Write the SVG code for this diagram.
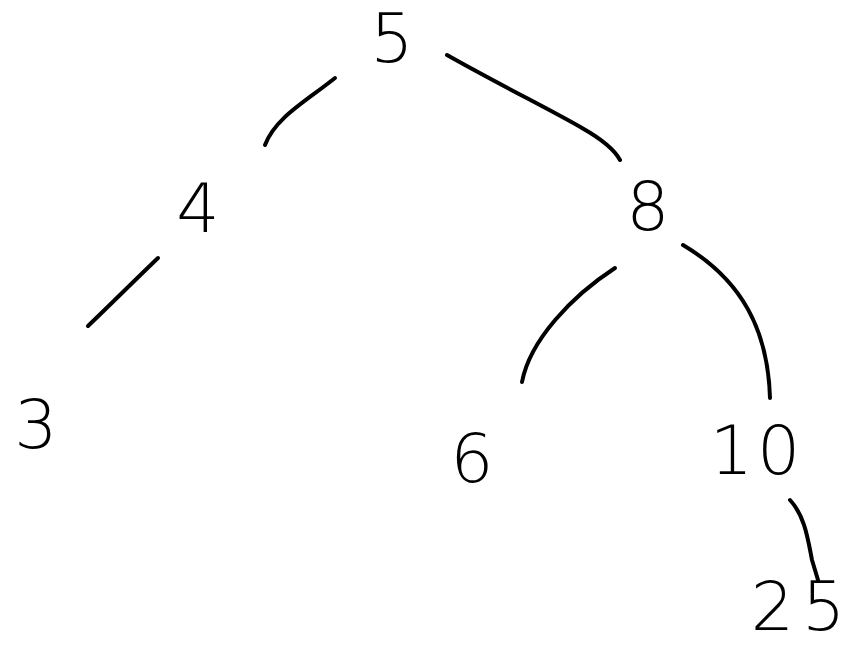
<svg xmlns="http://www.w3.org/2000/svg" width="856" height="647" viewBox="0 0 856 647">
<style>
.lbl{font-family:"DejaVu Sans","Liberation Sans",sans-serif;font-size:68px;fill:#000;text-anchor:middle;font-weight:300}
.edge{fill:none;stroke:#000;stroke-width:4;stroke-linecap:round;stroke-linejoin:round}
</style>
<rect width="856" height="647" fill="#fff"/>
<g id="connectors">
<path class="edge" d="M335,78 C305,102 275,118 265,145"/>
<path class="edge" d="M447,55 C500,85 555,112 582,128 Q612,145 620,160"/>
<path class="edge" d="M158,258 C135,280 110,305 88,326"/>
<path class="edge" d="M615,268 C572,296 530,340 522,382"/>
<path class="edge" d="M683,245 C742,280 768,330 770,398"/>
<path class="edge" d="M790,500 C805,516 808,540 812,560 L818,580"/>
</g>
<g id="n5"><text class="lbl" x="392" y="62" font-size="62">5</text></g>
<g id="n4"><text class="lbl" x="198" y="232">4</text></g>
<g id="n8"><text class="lbl" x="648" y="230">8</text></g>
<g id="n3"><text class="lbl" x="36" y="448">3</text></g>
<g id="n6"><text class="lbl" x="472" y="482">6</text></g>
<g id="n10"><text class="lbl" x="757" y="474" letter-spacing="4">10</text></g>
<g id="n25"><text class="lbl" x="802" y="630" font-size="58" letter-spacing="8">25</text></g>
</svg>
